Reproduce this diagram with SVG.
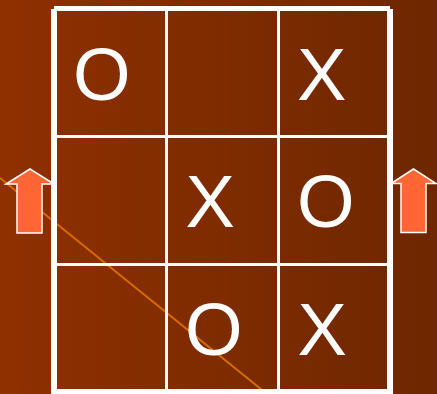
<svg xmlns="http://www.w3.org/2000/svg" width="437" height="394" viewBox="0 0 437 394">
<defs>
<linearGradient id="bg" x1="0" y1="0" x2="1" y2="0">
<stop offset="0" stop-color="#8F3000"/>
<stop offset="1" stop-color="#6E2700"/>
</linearGradient>
</defs>
<style>
.grid{stroke:#FFFFFF;stroke-linecap:butt;fill:none}
.mark{font-family:"Liberation Sans",Arial,sans-serif;font-size:74px;fill:#FFFFFF}
.arrow{fill:#FF6633;stroke:#FFFFFF;stroke-width:1.5;stroke-linejoin:miter}
</style>
<rect width="437" height="394" fill="url(#bg)"/>
<line x1="0" y1="178" x2="267" y2="394" stroke="#D96A00" stroke-width="2"/>
<g id="arrow-left"><path class="arrow" d="M30,169 L6,184 L17,184 L17,233 L42,233 L42,184 L54,184 Z"/></g>
<g id="arrow-right"><path class="arrow" d="M413.5,169 L391,183.5 L401,183.5 L401,232.5 L426,232.5 L426,183.5 L436,183.5 Z"/></g>
<g id="board">
<line class="grid" x1="54" y1="8.5" x2="390" y2="8.5" stroke-width="5"/>
<line class="grid" x1="54" y1="9" x2="54" y2="394" stroke-width="6"/>
<line class="grid" x1="390" y1="9" x2="390" y2="394" stroke-width="6"/>
<line class="grid" x1="54" y1="391.5" x2="390" y2="391.5" stroke-width="5"/>
<line class="grid" x1="54" y1="136.5" x2="390" y2="136.5" stroke-width="3"/>
<line class="grid" x1="54" y1="264.5" x2="390" y2="264.5" stroke-width="3"/>
<line class="grid" x1="166.5" y1="9" x2="166.5" y2="392" stroke-width="3"/>
<line class="grid" x1="278.5" y1="9" x2="278.5" y2="392" stroke-width="3"/>
</g>
<g id="cell-1-1"><text class="mark" x="73" y="99.5">O</text></g>
<g id="cell-1-3"><text class="mark" x="297" y="99.5">X</text></g>
<g id="cell-2-2"><text class="mark" x="185.5" y="227">X</text></g>
<g id="cell-2-3"><text class="mark" x="297" y="227">O</text></g>
<g id="cell-3-2"><text class="mark" x="185" y="355">O</text></g>
<g id="cell-3-3"><text class="mark" x="297.5" y="355">X</text></g>
</svg>
